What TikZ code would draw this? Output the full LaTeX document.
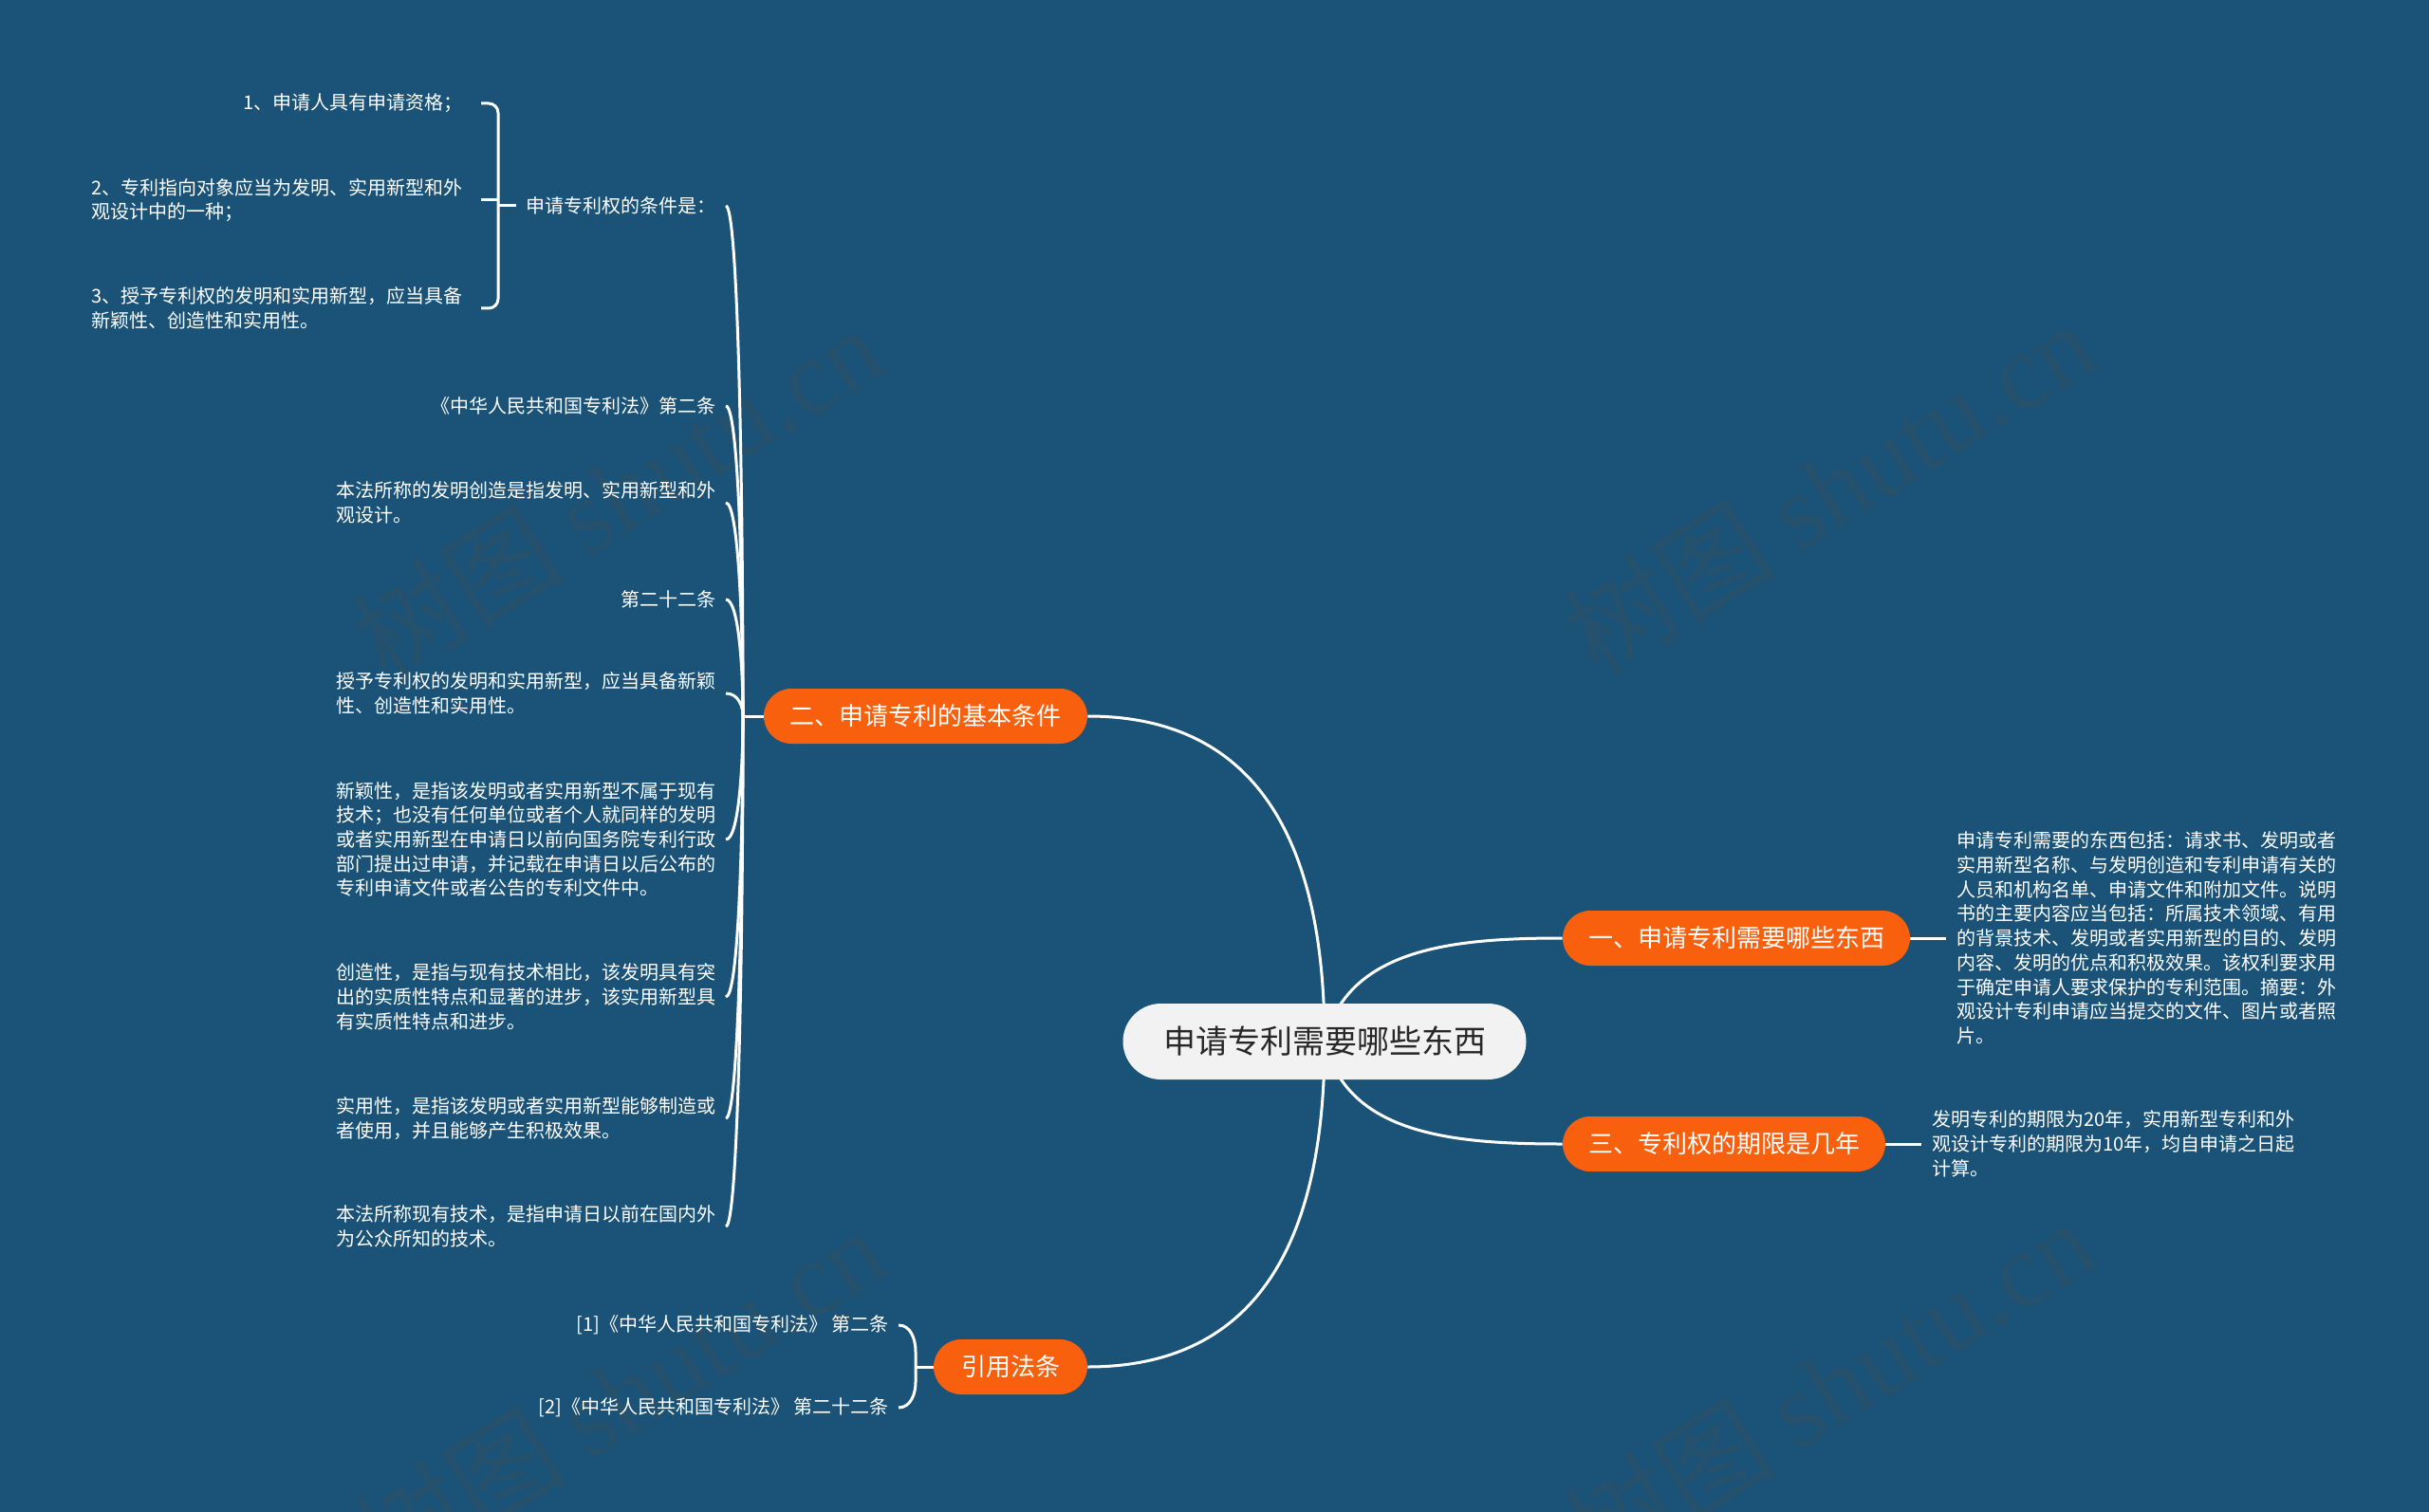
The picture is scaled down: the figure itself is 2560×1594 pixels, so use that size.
\documentclass[tikz,border=0pt]{standalone}
\usepackage{fontspec}
\setmainfont{Noto Sans CJK SC}
\newfontfamily\wmserif{Liberation Serif}
\usetikzlibrary{calc}
\definecolor{bgc}{RGB}{26,83,119}
\definecolor{orng}{RGB}{248,96,14}
\definecolor{cgray}{RGB}{242,242,242}
\definecolor{ctext}{RGB}{40,40,40}
\pgfdeclarelayer{back}
\pgfdeclarelayer{links}
\pgfsetlayers{back,links,main}
\begin{document}
\begin{tikzpicture}[x=0.5pt,y=-0.5pt,
  conn/.style={draw=white,line width=1.5pt},
  topic/.style={fill=orng,text=white,rounded corners=14.5pt,minimum height=29pt,inner sep=0pt,font=\fontsize{13}{15}\selectfont},
  leaf/.style={text=white,inner xsep=5pt,inner ysep=2pt,align=left,font=\fontsize{10}{12.85}\selectfont},
  wm/.style={text=gray!60!black,text opacity=0.25,font=\fontsize{56}{60}\selectfont,rotate=32,inner sep=0pt}
]
\useasboundingbox (0,0) rectangle (2560,1594);
\begin{pgfonlayer}{back}
\fill[bgc] (0,0) rectangle (2560,1594);
\node[wm] (w1) at (650,519) {树图 {\wmserif shutu.cn}};
\node[wm] (w2) at (1927,514) {树图 {\wmserif shutu.cn}};
\node[wm] (w3) at (653,1470) {树图 {\wmserif shutu.cn}};
\node[wm] (w4) at (1927,1461) {树图 {\wmserif shutu.cn}};
\end{pgfonlayer}

% central topic
\node[fill=cgray,text=ctext,rounded corners=20pt,minimum width=212.5pt,minimum height=40pt,inner sep=0pt,font=\fontsize{17}{20}\selectfont] (c) at (1396,1098) {申请专利需要哪些东西};

% main topics
\node[topic,minimum width=183pt] (n1) at (1830,989) {一、申请专利需要哪些东西};
\node[topic,minimum width=170pt] (n3) at (1817,1206) {三、专利权的期限是几年};
\node[topic,minimum width=170.5pt] (n2) at (975.5,755) {二、申请专利的基本条件};
\node[topic,minimum width=81pt] (n4) at (1065,1441) {引用法条};

% right leaves
\node[leaf,anchor=west,inner xsep=5.5pt] (R1) at (2051,989) {申请专利需要的东西包括：请求书、发明或者\\实用新型名称、与发明创造和专利申请有关的\\人员和机构名单、申请文件和附加文件。说明\\书的主要内容应当包括：所属技术领域、有用\\的背景技术、发明或者实用新型的目的、发明\\内容、发明的优点和积极效果。该权利要求用\\于确定申请人要求保护的专利范围。摘要：外\\观设计专利申请应当提交的文件、图片或者照\\片。};
\node[leaf,anchor=west,inner xsep=5.5pt] (R3) at (2025,1206) {发明专利的期限为20年，实用新型专利和外\\观设计专利的期限为10年，均自申请之日起\\计算。};

% left leaves of topic 2
\node[leaf,anchor=east] (L0) at (765,217) {申请专利权的条件是：};
\node[leaf,anchor=east] (L1) at (765,428) {《中华人民共和国专利法》第二条};
\node[leaf,anchor=east] (L2) at (765,530) {本法所称的发明创造是指发明、实用新型和外\\观设计。};
\node[leaf,anchor=east] (L3) at (765,632) {第二十二条};
\node[leaf,anchor=east] (L4) at (765,731) {授予专利权的发明和实用新型，应当具备新颖\\性、创造性和实用性。};
\node[leaf,anchor=east] (L5) at (765,885) {新颖性，是指该发明或者实用新型不属于现有\\技术；也没有任何单位或者个人就同样的发明\\或者实用新型在申请日以前向国务院专利行政\\部门提出过申请，并记载在申请日以后公布的\\专利申请文件或者公告的专利文件中。};
\node[leaf,anchor=east] (L6) at (765,1051) {创造性，是指与现有技术相比，该发明具有突\\出的实质性特点和显著的进步，该实用新型具\\有实质性特点和进步。};
\node[leaf,anchor=east] (L7) at (765,1179) {实用性，是指该发明或者实用新型能够制造或\\者使用，并且能够产生积极效果。};
\node[leaf,anchor=east] (L8) at (765,1293) {本法所称现有技术，是指申请日以前在国内外\\为公众所知的技术。};

% sub leaves of L0
\node[leaf,anchor=east,inner xsep=9.5pt] (S1) at (507,109) {1、申请人具有申请资格；};
\node[leaf,anchor=east,inner xsep=9.5pt] (S2) at (507,211) {2、专利指向对象应当为发明、实用新型和外\\观设计中的一种；};
\node[leaf,anchor=east,inner xsep=9.5pt] (S3) at (507,325) {3、授予专利权的发明和实用新型，应当具备\\新颖性、创造性和实用性。};

% citations
\node[leaf,anchor=east] (Q1) at (947,1397) {[1]《中华人民共和国专利法》 第二条};
\node[leaf,anchor=east] (Q2) at (947,1484) {[2]《中华人民共和国专利法》 第二十二条};

\begin{pgfonlayer}{links}
\draw[conn] (c.center) .. controls (1396,880) and (1320,755) .. (n2.east);
\draw[conn] (c.center) .. controls (1396,1316) and (1320,1441) .. (n4.east);
\draw[conn] (c.center) .. controls (1420,1000) and (1530,989) .. (n1.west);
\draw[conn] (c.center) .. controls (1420,1196) and (1530,1206) .. (n3.west);
\draw[conn] (n1.east) -- (R1.west);
\draw[conn] (n3.east) -- (R3.west);
\coordinate (J) at (783,755);
\draw[conn] (n2.west) -- (J);
\foreach \l in {L0,L1,L2,L3,L4,L5,L6,L7,L8}{
  \draw[conn] (J) .. controls ($(J)!0.45!(J |- \l.east)$) and ([xshift=6.5pt]\l.east) .. (\l.east);
}
\draw[conn,rounded corners=5pt] (S1.east) -- (525,109) -- (525,325) -- (S3.east);
\draw[conn] (S2.east) -- (525,211);
\draw[conn] (525,217) -- (L0.west);
\draw[conn] (Q1.east) to[out=0,in=90] (965,1425) -- (965,1457) to[out=-90,in=0] (Q2.east);
\draw[conn] (965,1441) -- (n4.west);
\end{pgfonlayer}
\end{tikzpicture}
\end{document}
